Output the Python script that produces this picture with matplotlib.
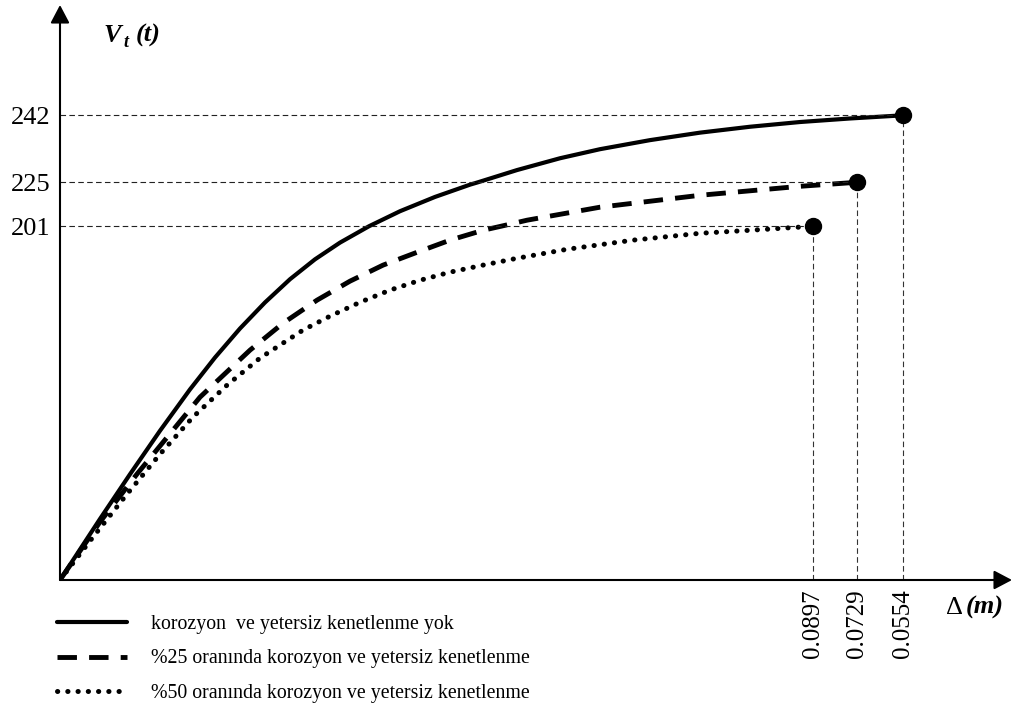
import numpy as np
import matplotlib.pyplot as plt

plt.rcParams['font.family'] = ['Liberation Serif', 'DejaVu Serif']

# yatay konum (şematik çizim birimi) ve taban kesme kuvveti V_t (t)
x_yok = [0, 40, 70, 100, 130, 155, 180, 205, 230, 255, 280, 309, 340, 375, 410, 418, 457,
         500, 540, 590, 640, 690, 740, 790, 843]
v_yok = [0, 34.7, 60.1, 84.8, 108.3, 126.4, 142.9, 157.7, 170.9, 182.2, 191.7, 201, 209.2, 217.0,
         223.7, 225, 228.1, 231.1, 233.4, 235.7, 237.6, 239.1, 240.3, 241.2, 242]

x_25 = [0, 40, 77, 140, 190, 223, 257, 290, 323, 357, 390, 423, 441, 467, 540, 640, 740, 797]
v_25 = [0, 33.0, 60.2, 103.9, 130.6, 145.9, 159.0, 169.8, 178.9, 186.2, 193.1, 198.7, 201, 204.3,
        211.4, 217.9, 222.8, 225]

x_50 = [0, 33, 67, 100, 133, 167, 200, 243, 270, 300, 330, 360, 390, 423, 457, 507, 573, 640, 707, 753]
v_50 = [0, 24.4, 48.8, 71.5, 92.6, 110.7, 126.1, 142.0, 149.9, 157.8, 164.7, 170.3, 174.9, 178.9,
        182.8, 187.9, 193.1, 197.0, 199.3, 201]

etiketler = ['korozyon  ve yetersiz kenetlenme yok',
             '%25 oranında korozyon ve yetersiz kenetlenme',
             '%50 oranında korozyon ve yetersiz kenetlenme']
y_tik = [201, 225, 242]
x_tik_etiket = ['0.0897', '0.0729', '0.0554']

# şematik düşey eksen: değerler parça parça doğrusal ölçekte
Y_KNOT = [0, 201, 225, 242, 270]
H_KNOT = [0, 354, 398, 465, 575.4]


def ileri(v):
    return np.interp(v, Y_KNOT, H_KNOT)


def geri(h):
    return np.interp(h, H_KNOT, Y_KNOT)


W, H = 1019, 706
fig = plt.figure(figsize=(W / 100, H / 100), dpi=100)
ax = fig.add_axes([60 / W, 1 - 580 / H, 952 / W, 575 / H])
ax.set_yscale('function', functions=(ileri, geri))
ax.set_xlim(0, 952)
ax.set_ylim(0, 270)
for s in ax.spines.values():
    s.set_visible(False)

l1, = ax.plot(x_yok, v_yok, color='k', lw=3.0, solid_capstyle='round', solid_joinstyle='round')
l2, = ax.plot(x_25, v_25, color='k', lw=3.5, linestyle=(0, (4, 2.5)), dash_capstyle='butt')
l3, = ax.plot(x_50, v_50, color='k', lw=3.6, linestyle=(0, (0.05, 2.0)), dash_capstyle='round')

# uç noktalar ve kesikli yardımcı çizgiler
for xs, vs in [(x_yok, v_yok), (x_25, v_25), (x_50, v_50)]:
    xe, ve = xs[-1], vs[-1]
    ax.plot([0, xe], [ve, ve], color='#222222', lw=0.8, linestyle=(0, (5, 3)))
    ax.plot([xe, xe], [0, ve], color='#333333', lw=0.8, linestyle=(0, (5, 3)))
    ax.plot([xe], [ve], 'o', color='k', ms=11.5, clip_on=False, zorder=5)

# eksen okları
okp = dict(arrowstyle='-|>,head_length=0.55,head_width=0.29', lw=1.5, color='k',
           shrinkA=0, shrinkB=0, mutation_scale=20)
ax.annotate('', xy=(0, 1), xytext=(0, 0), xycoords='axes fraction', arrowprops=okp,
            annotation_clip=False)
ax.annotate('', xy=(1, 0), xytext=(0, 0), xycoords='axes fraction', arrowprops=okp,
            annotation_clip=False)

ax.set_yticks(y_tik)
ax.set_yticklabels([str(v) for v in y_tik], fontsize=19)
ax.set_xticks([x_50[-1], x_25[-1], x_yok[-1]])
ax.set_xticklabels(x_tik_etiket, fontsize=18, rotation=90)
ax.tick_params(axis='y', length=0, pad=7)
ax.tick_params(axis='x', length=0, pad=7)
ax.yaxis.set_minor_locator(plt.NullLocator())
ax.xaxis.set_minor_locator(plt.NullLocator())

# eksen başlıkları
fig.text(103 / W, 1 - 42 / H, 'V', fontsize=19, fontweight='bold', fontstyle='italic', va='baseline')
fig.text(123 / W, 1 - 47 / H, 't', fontsize=13, fontweight='bold', fontstyle='italic', va='baseline')
fig.text(136 / W, 1 - 42 / H, '(t)', fontsize=19, fontweight='bold', fontstyle='italic', va='baseline')
fig.text(946 / W, 1 - 614 / H, 'Δ', fontsize=19, va='baseline')
fig.text(966 / W, 1 - 614 / H, '(m)', fontsize=19, fontweight='bold', fontstyle='italic', va='baseline')

fig.legend([l1, l2, l3], etiketler, loc='upper left', bbox_to_anchor=(57 / W, 1 - 615 / H),
           frameon=False, borderpad=0, borderaxespad=0, handlelength=3.5,
           handletextpad=1.25, labelspacing=0.78, prop={'size': 14.3})

fig.savefig('out.png', dpi=100)
